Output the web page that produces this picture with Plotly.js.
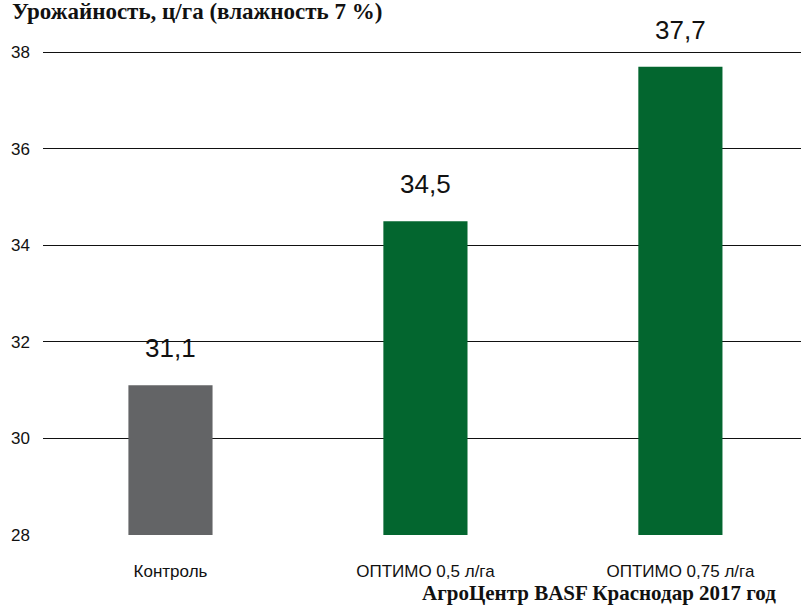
<!DOCTYPE html>
<html><head><meta charset="utf-8">
<script src="https://cdn.plot.ly/plotly-3.0.1.min.js"></script>
<style>html,body{margin:0;padding:0;background:#fff}</style>
</head><body><div id="chart" style="width:801px;height:605px"></div>
<script>
var categories = ['Контроль', 'ОПТИМО 0,5 л/га', 'ОПТИМО 0,75 л/га'];
var values = [31.1, 34.5, 37.7];
var valueLabels = ['31,1', '34,5', '37,7'];
var barColors = ['#636466', '#03662f', '#03662f'];
var yTicks = [28, 30, 32, 34, 36, 38];
var titleText = 'Урожайность, ц/га (влажность 7 %)';
var sourceText = 'АгроЦентр BASF Краснодар 2017 год';

var annotations = categories.map(function(c, i){
  return {x: i, y: values[i], xref:'x', yref:'y', text: valueLabels[i], showarrow:false,
    yanchor:'bottom', yshift: 20, font:{family:'Liberation Sans, Arial, sans-serif', size:26, color:'#111'}};
});
annotations.push({xref:'paper', yref:'paper', x:-0.0435, y:0.9785, xanchor:'left', yanchor:'middle',
  text:'<b>'+titleText+'</b>', showarrow:false, font:{family:'Liberation Serif, serif', size:23, color:'#111'}});
annotations.push({xref:'paper', yref:'paper', x:0.4974, y:-0.1075, xanchor:'left', yanchor:'middle',
  text:'<b>'+sourceText+'</b>', showarrow:false, font:{family:'Liberation Serif, serif', size:21, color:'#111'}});

Plotly.newPlot('chart', [{
  type:'bar', x:[0,1,2], y: values, marker:{color: barColors}, hoverinfo:'none'
}], {
  width:801, height:605,
  margin:{l:43, r:0, t:0, b:70},
  paper_bgcolor:'#fff', plot_bgcolor:'#fff',
  bargap: 0.67,
  showlegend:false,
  xaxis:{range:[-0.5, 2.473], tickmode:'array', tickvals:[0,1,2], ticktext: categories,
    showgrid:false, zeroline:false, showline:false, ticks:'', ticklabelstandoff: 24,
    tickfont:{family:'Liberation Sans, Arial, sans-serif', size:17, color:'#111'}},
  yaxis:{range:[28, 39.08], tickmode:'array', tickvals: yTicks, showgrid:true, gridcolor:'#111', gridwidth:1,
    zeroline:false, showline:false, ticks:'', ticklabelstandoff: 12,
    tickfont:{family:'Liberation Sans, Arial, sans-serif', size:17, color:'#111'}},
  annotations: annotations
}, {staticPlot:true});
</script></body></html>
